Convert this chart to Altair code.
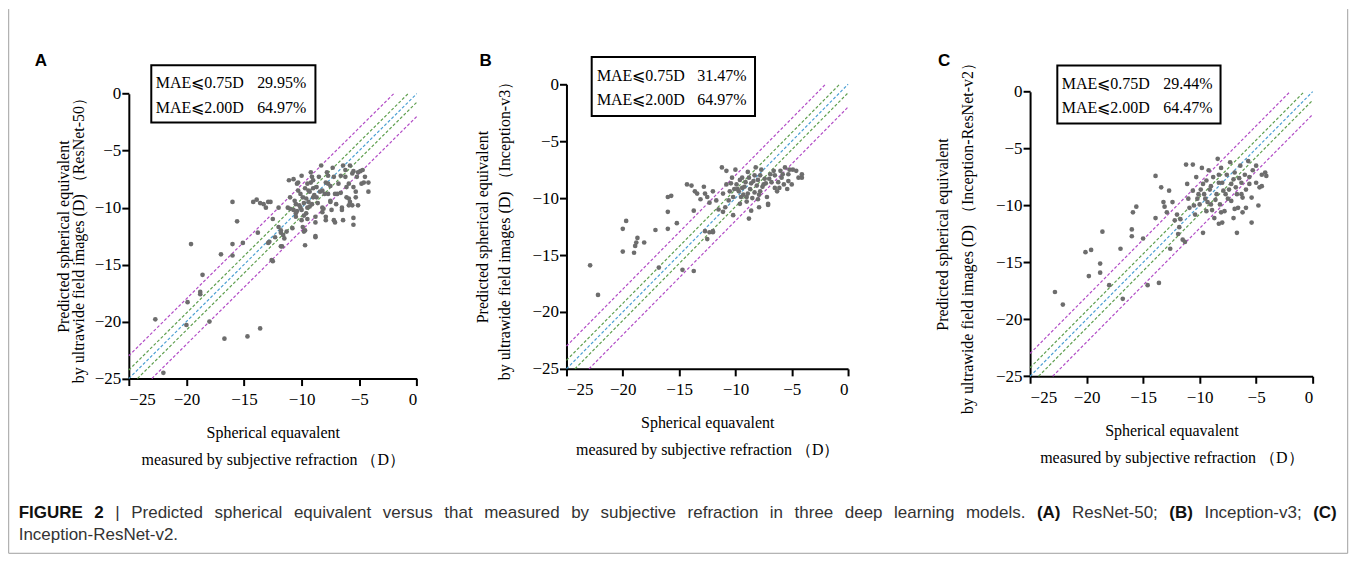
import altair as alt
import pandas as pd

# ---------------- data ----------------
A_x = [-22.7,-22.0,-20.0,-19.9,-19.6,-18.8,-18.8,-18.6,-18.0,-17.0,-16.7,-16.0,-16.0,-16.0,-15.6,-15.1,-14.7,-13.8,-13.6,-14.2,
       -13.9,-13.6,-13.3,-13.1,-12.9,-12.7,-12.9,-12.6,-12.5,-12.5,-12.0,-12.0,-11.7,-11.8,-11.8,-11.6,-11.3,-11.2,-11.0,-10.7,
       -10.5,-10.5,-10.3,-10.3,-10.1,-10.0,-10.0,-9.9,-9.8,-9.7,-9.6,-9.5,-9.5,-9.4,-9.3,-9.2,-9.1,-9.0,-8.8,-8.8,
       -8.7,-8.5,-8.4,-8.2,-8.2,-8.0,-7.9,-7.9,-7.7,-7.7,-7.5,-7.5,-7.2,-7.2,-7.1,-7.0,-8.3,-7.3,-6.6,-6.5,
       -6.4,-6.2,-6.1,-5.9,-5.8,-5.6,-5.5,-5.5,-5.3,-5.2,-5.1,-4.9,-4.8,-4.7,-4.5,-4.2,-5.5,-5.9,-6.4,-5.8,
       -5.5,-4.2,-11.1,-11.0,-10.8,-10.7,-10.5,-10.4,-10.1,-10.0,-9.9,-9.8,-9.7,-9.5,-9.4,-9.2,-9.1,-9.0,-8.8,-8.7,
       -8.2,-8.1,-7.9,-7.8,-7.7,-7.5,-7.4,-7.1,-6.9,-6.8,-6.6,-6.5,-6.2,-6.1,-5.9,-5.6,-5.3,-5.1,-4.6,-8.8,
       -12.3,-11.5,-12.8,-11.8,-10.2,-9.8,-9.6,-9.3,-10.4,-9.0,-8.6,-8.9,-10.6,-9.7]
A_y = [-19.8,-24.5,-20.3,-18.3,-13.2,-17.4,-17.6,-15.9,-20.0,-14.1,-21.5,-9.5,-13.2,-14.2,-11.2,-13.1,-21.3,-12.2,-20.6,-9.5,
       -9.3,-9.6,-9.7,-10.0,-9.5,-9.5,-13.1,-14.6,-14.7,-11.0,-11.7,-10.0,-13.4,-12.0,-12.2,-12.4,-12.1,-10.0,-9.1,-10.2,
       -10.5,-10.8,-7.8,-8.5,-10.0,-10.2,-11.1,-11.7,-12.1,-13.3,-10.5,-11.0,-10.0,-9.5,-8.6,-7.8,-7.3,-9.1,-10.8,-12.5,
       -8.2,-7.3,-8.6,-10.0,-10.4,-8.8,-7.8,-10.8,-7.2,-8.8,-8.1,-9.5,-7.3,-11.1,-8.8,-9.7,-6.3,-6.5,-8.7,-10.0,
       -11.1,-7.3,-9.1,-7.9,-9.5,-7.0,-8.2,-10.9,-9.1,-7.3,-9.8,-6.8,-7.9,-6.7,-7.3,-7.8,-11.5,-9.8,-6.3,-6.3,
       -6.8,-8.6,-7.6,-10.1,-11.8,-7.5,-9.7,-7.9,-8.8,-7.2,-9.1,-10.7,-12.0,-7.9,-8.5,-6.9,-9.7,-7.6,-11.3,-9.1,
       -8.5,-10.1,-11.1,-6.9,-7.9,-9.4,-10.2,-11.3,-8.8,-7.9,-7.2,-10.2,-6.7,-8.2,-9.2,-9.8,-8.6,-6.9,-7.8,-12.6,
       -12.6,-12.7,-13.0,-13.4,-9.8,-9.6,-9.2,-9.9,-10.3,-8.3,-9.6,-8.9,-9.4,-8.3]

B_x = [-22.9,-22.2,-20.0,-20.0,-19.7,-19.0,-18.9,-18.8,-18.7,-18.1,-17.1,-16.8,-16.0,-16.0,-15.7,-16.0,-15.2,-14.7,-13.7,-14.3,
       -13.9,-13.7,-13.6,-13.4,-13.1,-12.8,-12.7,-12.5,-12.7,-12.5,-12.3,-12.0,-12.3,-12.0,-11.7,-11.2,-11.1,-10.9,-10.8,-10.8,
       -10.6,-10.5,-10.3,-10.2,-10.2,-10.0,-9.9,-9.7,-9.6,-9.4,-9.4,-9.3,-9.1,-9.0,-8.9,-8.7,-8.6,-8.4,-8.3,-8.2,
       -8.1,-8.0,-7.8,-7.8,-7.7,-7.5,-7.4,-7.2,-7.1,-6.9,-6.8,-6.6,-6.5,-6.3,-6.1,-6.0,-5.9,-5.7,-5.6,-5.4,
       -5.3,-5.2,-5.0,-4.9,-4.6,-4.4,-4.1,-4.1,-5.3,-8.8,-7.9,-7.1,-11.5,-12.0,-11.1,-9.8,-9.2,-8.6,-8.9,-9.5,
       -8.0,-7.6,-10.1,-8.5,-7.0,-9.6,-8.3,-7.3,-6.5,-10.4,-9.0,-8.8,-7.9,-6.2,-5.8]
B_y = [-15.9,-18.5,-14.7,-12.7,-12.0,-14.8,-14.2,-13.9,-13.5,-13.9,-12.8,-16.1,-12.7,-9.9,-9.8,-11.2,-12.2,-16.3,-16.4,-8.8,
       -8.9,-11.1,-9.4,-9.6,-10.1,-9.0,-9.6,-9.9,-12.9,-13.6,-13.0,-13.0,-10.4,-9.4,-10.2,-7.3,-9.6,-10.8,-8.8,-7.6,
       -10.2,-9.4,-8.2,-11.5,-9.9,-7.5,-8.8,-9.4,-10.5,-8.2,-9.1,-9.7,-8.6,-9.9,-7.7,-9.2,-11.1,-8.5,-9.5,-7.3,
       -8.9,-10.1,-8.0,-9.4,-7.5,-8.8,-8.3,-9.9,-10.5,-7.9,-8.6,-7.6,-9.1,-9.4,-9.1,-7.6,-8.2,-8.8,-7.3,-9.2,
       -7.9,-7.5,-8.8,-7.5,-7.6,-8.2,-8.2,-7.9,-8.5,-11.8,-10.8,-10.6,-11.0,-12.9,-11.2,-9.2,-9.0,-8.7,-9.6,-9.9,
       -8.4,-9.0,-9.2,-10.0,-8.3,-8.4,-8.0,-8.7,-8.0,-8.7,-10.3,-8.2,-9.7,-8.6,-7.9]

C_x = [-22.8,-22.1,-20.1,-19.6,-19.8,-18.8,-18.8,-18.6,-18.0,-17.0,-16.8,-16.0,-16.0,-15.9,-15.6,-15.0,-14.6,-13.9,-13.6,-13.9,
       -13.4,-13.2,-13.1,-12.9,-12.7,-12.6,-12.4,-12.2,-12.0,-11.9,-11.8,-11.7,-11.5,-11.3,-11.2,-11.1,-11.0,-10.9,-10.6,-10.6,
       -10.4,-10.3,-10.1,-10.0,-9.8,-9.7,-9.7,-9.5,-9.4,-9.2,-9.1,-9.0,-8.8,-8.7,-8.5,-8.4,-8.3,-8.2,-8.1,-8.0,
       -7.9,-7.8,-7.6,-7.5,-7.3,-7.2,-7.0,-6.9,-6.7,-6.6,-6.4,-6.3,-6.2,-6.0,-5.9,-5.7,-5.6,-5.4,-5.3,-5.0,
       -5.4,-5.0,-4.8,-4.7,-4.5,-4.2,-4.1,-4.5,-5.9,-6.2,-6.7,-8.3,-6.9,-9.6,-9.0,-8.6,-8.0,-7.7,-9.3,-10.2,
       -8.9,-7.4,-6.8,-8.3,-9.9,-7.0,-6.5,-10.5,-9.4,-8.1,-7.2,-6.3,-5.6]
C_y = [-17.6,-18.7,-14.1,-13.9,-16.2,-15.1,-15.9,-12.3,-17.0,-13.8,-18.2,-12.1,-12.7,-10.6,-10.1,-12.9,-17.0,-7.4,-16.8,-11.1,
       -8.4,-9.7,-10.1,-10.6,-8.7,-13.8,-9.7,-11.3,-10.8,-12.5,-11.9,-11.2,-13.0,-13.2,-6.4,-8.1,-9.4,-10.2,-6.4,-8.7,
       -10.8,-7.5,-9.0,-9.9,-6.7,-12.4,-8.1,-9.4,-10.5,-6.9,-8.6,-9.9,-7.5,-11.1,-9.0,-5.9,-8.0,-9.9,-6.7,-11.5,
       -8.7,-10.5,-7.3,-9.4,-6.2,-8.1,-11.1,-7.1,-9.0,-10.2,-6.5,-8.0,-9.3,-7.3,-8.6,-6.1,-7.5,-9.3,-6.9,-8.0,
       -11.5,-6.5,-10.0,-8.4,-7.3,-7.1,-7.4,-8.3,-10.2,-10.6,-12.4,-11.6,-10.3,-9.0,-8.3,-9.5,-8.0,-9.0,-9.7,-9.4,
       -10.4,-8.6,-8.4,-7.3,-8.6,-7.7,-7.6,-10.0,-7.8,-10.6,-9.6,-9.0,-8.1]

MODELS = ["ResNet-50", "Inception-v3", "Inception-ResNet-v2"]
LETTERS = ["A", "B", "C"]
MAE_LABELS = ["MAE\u2a7d0.75D", "MAE\u2a7d2.00D"]
MAE_PCT = [["29.95%", "64.97%"], ["31.47%", "64.97%"], ["29.44%", "64.47%"]]
TICKS = [-25, -20, -15, -10, -5, 0]
OFFSETS = [2, 0.75, 0, -0.75, -2]
OFFSET_GROUP = ["pm2", "pm075", "zero", "pm075", "pm2"]

CAPTION_1 = ("FIGURE 2 | Predicted spherical equivalent versus that measured by subjective refraction in three "
             "deep learning models. (A) ResNet-50; (B) Inception-v3; (C)")
CAPTION_BOLD = {"FIGURE", "2", "(A)", "(B)", "(C)"}
CAPTION_2 = "Inception-ResNet-v2."

# ---------------- layout / style (pixels) ----------------
SERIF = "Liberation Serif"
SANS = "Liberation Sans"
PANEL = [
    dict(w=288.4, xr=[0, 288.4], h=294.7, yr=[294.7, 9.4], box=(-23.05, -8.8, 2.5, -2.53), ty=(0.9, -1.22), tx=-22.66, px=-13.86,
         ytp=8, ylh=15, xtp=17, xlh=27),
    dict(w=314.7, xr=[0, 282], h=285.0, yr=[285.0, 0], box=(-22.76, -8.26, 2.4, -2.78), ty=(0.73, -1.4), tx=-22.3, px=-13.38,
         ytp=19, ylh=22, xtp=17, xlh=27),
    dict(w=283.0, xr=[0, 283], h=292.4, yr=[292.4, 7.4], box=(-22.59, -8.15, 2.3, -2.8), ty=(0.65, -1.4), tx=-22.2, px=-13.22,
         ytp=20, ylh=25, xtp=17, xlh=27),
]
LETTER_POS = [(-88, -23), (-81, -23), (-86, -23)]
LINE_COLORS = ["#b24cc6", "#5f9f4f", "#4b9fd3"]
ORIGIN_A = (128.3, 83.3)          # page position of panel A's plot origin
CAP_LEFT, CAP_RIGHT = 18, 1338    # justified caption line
CAP_Y = (513, 535)
CAP_SIZE = 17
FRAME = (8, 8, 1349, 553)

# Arial / Liberation Sans advance widths (em)
REG = dict(zip("abcdefghijklmnopqrstuvwxyz", [.556,.556,.5,.556,.556,.278,.556,.556,.222,.222,.5,.222,.833,.556,.556,.556,.556,.333,.5,.278,.556,.5,.722,.5,.5,.5]))
REG.update(dict(zip("ABCDEFGHIJKLMNOPQRSTUVWXYZ", [.667,.667,.722,.722,.667,.611,.778,.722,.278,.5,.667,.556,.833,.722,.778,.667,.778,.722,.667,.611,.722,.667,.944,.667,.667,.611])))
REG.update({c: .556 for c in "0123456789"})
REG.update({" ": .278, ".": .278, ",": .278, ";": .278, "-": .333, "(": .333, ")": .333, "|": .26})
BOLD = dict(REG)
BOLD.update({"A": .722, "B": .722, "C": .722, "F": .611, "I": .278, "G": .778, "U": .722, "R": .722, "E": .667})


def text_w(s, bold):
    tbl = BOLD if bold else REG
    return sum(tbl.get(c, .55) for c in s) * CAP_SIZE


def caption_words():
    words = [(w, "bold" if w in CAPTION_BOLD else "normal") for w in CAPTION_1.split(" ")]
    total = sum(text_w(w, b == "bold") for w, b in words)
    gap = (CAP_RIGHT - CAP_LEFT - total) / (len(words) - 1)
    out, x = [], CAP_LEFT
    for w, b in words:
        out.append((w, b, x))
        x += text_w(w, b == "bold") + gap
    return out


def ref_lines():
    rows = []
    for k, g in zip(OFFSETS, OFFSET_GROUP):
        if k >= 0:
            p1, p2 = (-25, -25 + k), (-k, 0)
        else:
            p1, p2 = (-25 - k, -25), (0, k)
        rows.append(dict(k=str(k), g=g, x=p1[0], y=p1[1]))
        rows.append(dict(k=str(k), g=g, x=p2[0], y=p2[1]))
    return pd.DataFrame(rows)


def panel(i, xs, ys):
    p = PANEL[i]
    xsc = alt.Scale(domain=[-25, 0], range=p["xr"], nice=False, zero=False)
    ysc = alt.Scale(domain=[-25, 0], range=p["yr"], nice=False, zero=False)
    xax = alt.Axis(values=TICKS, title=["Spherical equavalent", "measured by subjective refraction \uff08D\uff09"],
                   titlePadding=p["xtp"], titleLineHeight=p["xlh"], labelPadding=6)
    yax = alt.Axis(values=TICKS, title=["Predicted spherical equivalent",
                                        "by ultrawide field images (D) \uff08" + MODELS[i] + "\uff09"],
                   titlePadding=p["ytp"], titleLineHeight=p["ylh"], labelPadding=1)
    df = pd.DataFrame({"x": xs, "y": ys})
    pts = alt.Chart(df).mark_circle(size=22, color="#6d6d6d", opacity=1).encode(
        x=alt.X("x:Q", scale=xsc, axis=xax), y=alt.Y("y:Q", scale=ysc, axis=yax))
    lines = alt.Chart(ref_lines()).mark_line(strokeDash=[3, 2], strokeWidth=1.2).encode(
        x=alt.X("x:Q", scale=xsc), y=alt.Y("y:Q", scale=ysc), detail="k:N",
        color=alt.Color("g:N", scale=alt.Scale(domain=["pm2", "pm075", "zero"], range=LINE_COLORS), legend=None))
    x1, x2, y1, y2 = p["box"]
    box = alt.Chart(pd.DataFrame([dict(x1=x1, x2=x2, y1=y1, y2=y2)])).mark_rect(
        fill="white", stroke="black", strokeWidth=2, clip=False).encode(
        x=alt.X("x1:Q", scale=xsc), x2="x2:Q", y=alt.Y("y1:Q", scale=ysc), y2="y2:Q")
    tdf = pd.DataFrame({"lab": MAE_LABELS, "pct": MAE_PCT[i], "y": list(p["ty"]),
                        "tx": [p["tx"]] * 2, "px": [p["px"]] * 2})
    t1 = alt.Chart(tdf).mark_text(align="left", baseline="middle", font=SERIF, fontSize=16, color="black").encode(
        x=alt.X("tx:Q", scale=xsc), y=alt.Y("y:Q", scale=ysc), text="lab:N")
    t2 = alt.Chart(tdf).mark_text(align="left", baseline="middle", font=SERIF, fontSize=16, color="black").encode(
        x=alt.X("px:Q", scale=xsc), y=alt.Y("y:Q", scale=ysc), text="pct:N")
    lx, ly = LETTER_POS[i]
    letter = alt.Chart(pd.DataFrame({"t": [LETTERS[i]]})).mark_text(
        align="center", baseline="middle", font=SANS, fontSize=17, fontWeight="bold", color="black").encode(
        x=alt.value(lx), y=alt.value(ly), text="t:N")
    layers = [lines, pts, box, t1, t2, letter]
    if i == 0:
        layers += decorations()
    return alt.layer(*layers).properties(width=p["w"], height=p["h"])


def decorations():
    ox, oy = ORIGIN_A
    fl, ft, fr, fb = FRAME
    one = pd.DataFrame({"t": [""]})
    rule = dict(color="#a0a0a0", strokeWidth=1)
    out = [
        alt.Chart(one).mark_rule(**rule).encode(x=alt.value(fl - ox), y=alt.value(ft - oy), y2=alt.value(fb - oy)),
        alt.Chart(one).mark_rule(**rule).encode(x=alt.value(fr - ox), y=alt.value(ft - oy), y2=alt.value(fb - oy)),
        alt.Chart(one).mark_rule(**rule).encode(x=alt.value(fl - ox), x2=alt.value(fr - ox), y=alt.value(fb - oy)),
    ]
    for w, b, x in caption_words():
        out.append(alt.Chart(pd.DataFrame({"t": [w]})).mark_text(
            align="left", baseline="middle", font=SANS, fontSize=CAP_SIZE, fontWeight=b,
            color="#111" if b == "bold" else "#333").encode(
            x=alt.value(x - ox), y=alt.value(CAP_Y[0] - oy), text="t:N"))
    out.append(alt.Chart(pd.DataFrame({"t": [CAPTION_2]})).mark_text(
        align="left", baseline="middle", font=SANS, fontSize=CAP_SIZE, color="#333").encode(
        x=alt.value(CAP_LEFT - ox), y=alt.value(CAP_Y[1] - oy), text="t:N"))
    return out


chart = alt.hconcat(panel(0, A_x, A_y), panel(1, B_x, B_y), panel(2, C_x, C_y),
                    spacing=149.3, bounds="flush").properties(
    padding={"left": 0, "top": 0, "right": 0, "bottom": 0}
).configure_view(stroke=None).configure_axis(
    grid=False, domainColor="black", domainWidth=2, tickColor="black", tickWidth=2, tickSize=7,
    labelFont=SERIF, labelFontSize=17, labelColor="black",
    titleFont=SERIF, titleFontSize=16, titleFontWeight="normal", titleColor="black")

chart.save("out.html", embed_options={"renderer": "svg", "actions": False})
